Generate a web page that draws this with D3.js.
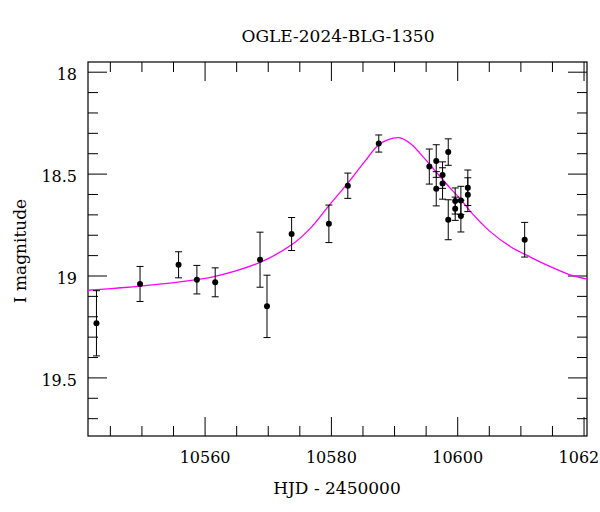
<!DOCTYPE html>
<html>
<head>
<meta charset="utf-8">
<script src="https://cdn.jsdelivr.net/npm/d3@7"></script>
<style>
body { margin: 0; background: #fff; }
text { font-family: "DejaVu Serif", serif; fill: #000; }
</style>
</head>
<body>
<div id="viz"></div>
<script>

// photometry points (HJD - 2450000, I mag, error)
var obsT = [10542.8, 10549.7, 10555.8, 10558.7, 10561.6, 10568.7, 10569.8, 10573.7, 10579.6, 10582.6,
	10587.5, 10595.5, 10596.6, 10596.6, 10597.6, 10597.6, 10598.5, 10598.5, 10599.6, 10599.6,
	10600.5, 10600.5, 10601.6, 10601.6, 10610.6];
var obsMag = [19.232, 19.039, 18.945, 19.018, 19.031, 18.920, 19.149, 18.794, 18.744, 18.557,
	18.350, 18.463, 18.436, 18.572, 18.505, 18.546, 18.392, 18.724, 18.632, 18.670,
	18.629, 18.706, 18.567, 18.601, 18.822];
var obsErr = [0.160, 0.086, 0.064, 0.070, 0.071, 0.135, 0.153, 0.081, 0.092, 0.062,
	0.042, 0.086, 0.080, 0.084, 0.065, 0.077, 0.065, 0.098, 0.064, 0.057,
	0.069, 0.078, 0.087, 0.083, 0.085];

// model curve
var modelT = [10541.5, 10549.7, 10558.7, 10561.6, 10568.7, 10573.7, 10576.7, 10579.6, 10582.6, 10585.3,
	10587.5, 10589.8, 10590.9, 10592.5, 10594.0, 10595.6, 10597.2, 10598.8, 10600.4, 10602.0,
	10605.1, 10608.3, 10611.5, 10614.6, 10617.8, 10620.5];
var modelMag = [19.07, 19.05, 19.018, 19.002, 18.933, 18.847, 18.765, 18.655, 18.544, 18.438,
	18.356, 18.324, 18.322, 18.35, 18.397, 18.454, 18.512, 18.569, 18.621, 18.683,
	18.781, 18.855, 18.907, 18.953, 18.994, 19.015];

var xMajor = [10560, 10580, 10600, 10620];
var yMajor = [18, 18.5, 19, 19.5];

var viz = { width: 600, height: 512 };
var frame = { left: 88, right: 587, top: 62, bottom: 436 };

var svg = d3.select("#viz")
	.append("svg")
	.attr("width", viz.width)
	.attr("height", viz.height);

var x = d3.scaleLinear().domain([10541.46, 10620.47]).range([frame.left, frame.right]);
var y = d3.scaleLinear().domain([17.95, 19.785]).range([frame.top, frame.bottom]);

var w = frame.right - frame.left, h = frame.bottom - frame.top;

var xMinor = d3.range(10545, 10621, 5).filter(function(d) { return d % 20 != 0 });
var yMinor = d3.range(180, 198).map(function(d) { return d / 10 }).filter(function(d) { return Math.round(d * 10) % 5 != 0 });

function ticksX(g, vals, len) {
	vals.forEach(function(v) {
		var px = x(v);
		g.append("line").attr("x1", px).attr("x2", px).attr("y1", frame.bottom).attr("y2", frame.bottom - len);
		g.append("line").attr("x1", px).attr("x2", px).attr("y1", frame.top).attr("y2", frame.top + len);
	});
}
function ticksY(g, vals, len) {
	vals.forEach(function(v) {
		var py = y(v);
		g.append("line").attr("y1", py).attr("y2", py).attr("x1", frame.left).attr("x2", frame.left + len);
		g.append("line").attr("y1", py).attr("y2", py).attr("x1", frame.right).attr("x2", frame.right - len);
	});
}

var tickG = svg.append("g").attr("stroke", "#000").attr("stroke-width", 1);
ticksX(tickG, xMajor, 19);
ticksX(tickG, xMinor, 10);
ticksY(tickG, yMajor, 19);
ticksY(tickG, yMinor, 10);

svg.append("rect")
	.attr("x", frame.left).attr("y", frame.top)
	.attr("width", w).attr("height", h)
	.attr("fill", "none").attr("stroke", "#000").attr("stroke-width", 1.2);

svg.selectAll(".xlab")
	.data(xMajor).enter()
	.append("text")
	.attr("x", function(d) { return x(d) })
	.attr("y", 463)
	.attr("text-anchor", "middle")
	.attr("font-size", 16)
	.text(function(d) { return d });

svg.selectAll(".ylab")
	.data(yMajor).enter()
	.append("text")
	.attr("x", 77)
	.attr("y", function(d) { return y(d) + 8 })
	.attr("text-anchor", "end")
	.attr("font-size", 16)
	.text(function(d) { return d });

svg.append("text")
	.attr("x", 338).attr("y", 42)
	.attr("text-anchor", "middle")
	.attr("font-size", 17)
	.text("OGLE-2024-BLG-1350");

svg.append("text")
	.attr("x", 337).attr("y", 494)
	.attr("text-anchor", "middle")
	.attr("font-size", 17)
	.text("HJD - 2450000");

svg.append("text")
	.attr("transform", "translate(26,251) rotate(-90)")
	.attr("text-anchor", "middle")
	.attr("font-size", 17)
	.text("I magnitude");

var plot = svg.append("g");

var line = d3.line()
	.x(function(d) { return x(d[0]) })
	.y(function(d) { return y(d[1]) })
	.curve(d3.curveCatmullRom);

plot.append("path")
	.datum(d3.zip(modelT, modelMag))
	.attr("d", line)
	.attr("fill", "none")
	.attr("stroke", "#ff00ff")
	.attr("stroke-width", 1.3);

var pts = d3.range(obsT.length);

var bars = plot.selectAll(".err")
	.data(pts).enter()
	.append("g")
	.attr("stroke", "#000")
	.attr("stroke-width", 1);

bars.append("line")
	.attr("x1", function(i) { return x(obsT[i]) })
	.attr("x2", function(i) { return x(obsT[i]) })
	.attr("y1", function(i) { return y(obsMag[i] - obsErr[i]) })
	.attr("y2", function(i) { return y(obsMag[i] + obsErr[i]) });

bars.append("line")
	.attr("x1", function(i) { return x(obsT[i]) - 3.5 })
	.attr("x2", function(i) { return x(obsT[i]) + 3.5 })
	.attr("y1", function(i) { return y(obsMag[i] - obsErr[i]) })
	.attr("y2", function(i) { return y(obsMag[i] - obsErr[i]) });

bars.append("line")
	.attr("x1", function(i) { return x(obsT[i]) - 3.5 })
	.attr("x2", function(i) { return x(obsT[i]) + 3.5 })
	.attr("y1", function(i) { return y(obsMag[i] + obsErr[i]) })
	.attr("y2", function(i) { return y(obsMag[i] + obsErr[i]) });

plot.selectAll(".pt")
	.data(pts).enter()
	.append("circle")
	.attr("cx", function(i) { return x(obsT[i]) })
	.attr("cy", function(i) { return y(obsMag[i]) })
	.attr("r", 3)
	.attr("fill", "#000");

</script>
</body>
</html>
